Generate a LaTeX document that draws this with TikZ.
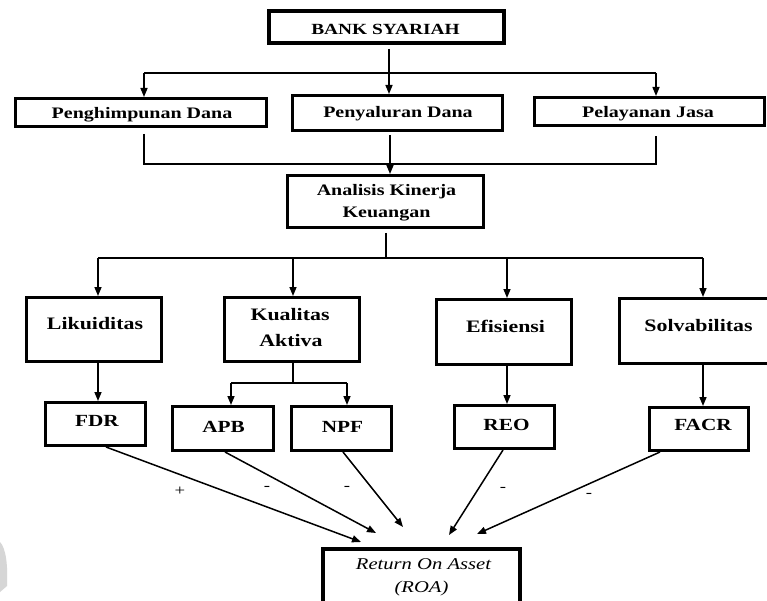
\documentclass[tikz,border=0pt]{standalone}
\usepackage{fontspec}
\setmainfont{Liberation Serif}[FakeStretch=1.25]
\usetikzlibrary{arrows.meta,calc}
\begin{document}
\begin{tikzpicture}[x=1pt,y=-1pt,
  box/.style={draw=black,line width=2.8pt,inner sep=0pt,fill=none},
  thickbox/.style={draw=black,line width=3.8pt,inner sep=0pt},
  conn/.style={draw=black,line width=1.5pt},
  arr/.style={conn,-{Triangle[length=9pt,width=7pt]}},
  lbl/.style={anchor=base,inner sep=0pt,font=\bfseries\fontsize{16}{19}\selectfont,align=center},
  lblb/.style={anchor=base,inner sep=0pt,font=\bfseries\fontsize{17.5}{21}\selectfont,align=center},
  lblc/.style={anchor=base,inner sep=0pt,font=\bfseries\fontsize{17}{20}\selectfont},
  sgn/.style={inner sep=0pt,font=\fontsize{15}{17}\selectfont}]
\useasboundingbox (0,0) rectangle (767,601);
\clip (0,0) rectangle (767,601);
\fill[white] (0,0) rectangle (767,601);
% faint watermark fragment
\fill[black!16] (0,542) .. controls (6,548) and (8,566) .. (7,586) -- (0,592) -- cycle;

% boxes
\node[thickbox,minimum width=235.2pt,minimum height=32.2pt] (bank) at (386.5,27) {};
\node[box,minimum width=251.2pt,minimum height=28.2pt] (pen) at (141,112.5) {};
\node[box,minimum width=210.2pt,minimum height=35.2pt] (pny) at (397.5,113) {};
\node[box,minimum width=230.2pt,minimum height=28.2pt] (pel) at (649.5,111.5) {};
\node[box,minimum width=196.2pt,minimum height=52.2pt] (ana) at (385.5,201.5) {};
\node[box,minimum width=135.2pt,minimum height=64.2pt] (lik) at (94,329.5) {};
\node[box,minimum width=135.2pt,minimum height=64.2pt] (kua) at (292,329.5) {};
\node[box,minimum width=135.2pt,minimum height=65.2pt] (efi) at (504,332) {};
\node[box,minimum width=152pt,minimum height=65.2pt] (sol) at (695.3,331) {};
\node[box,minimum width=100.2pt,minimum height=43.2pt] (fdr) at (95.5,424) {};
\node[box,minimum width=101.2pt,minimum height=44.2pt] (apb) at (223,428.5) {};
\node[box,minimum width=100.2pt,minimum height=44.2pt] (npf) at (341.5,428.5) {};
\node[box,minimum width=100.2pt,minimum height=43.2pt] (reo) at (504.5,427) {};
\node[box,minimum width=99.2pt,minimum height=43.2pt] (facr) at (699,429) {};
\node[thickbox,minimum width=197.2pt,minimum height=66pt] (roa) at (421.5,582) {};

% texts
\node[lbl,font=\bfseries\fontsize{15.5}{18}\selectfont] (tbank) at (385.5,35) {BANK SYARIAH};
\node[lbl] (tpen) at (142,118.5) {Penghimpunan Dana};
\node[lbl] (tpny) at (398,118) {Penyaluran Dana};
\node[lbl] (tpel) at (648,118) {Pelayanan Jasa};
\node[lbl] (tana1) at (386.5,196) {Analisis Kinerja};
\node[lbl] (tana2) at (386.5,218) {Keuangan};
\node[lblb] (tlik) at (95,329) {Likuiditas};
\node[lblb] (tkua1) at (290,320) {Kualitas};
\node[lblb] (tkua2) at (291,346) {Aktiva};
\node[lblb] (tefi) at (505.5,332) {Efisiensi};
\node[lblb] (tsol) at (698.5,331) {Solvabilitas};
\node[lblc] (tfdr) at (97,426) {FDR};
\node[lblc] (tapb) at (223.5,432) {APB};
\node[lblc] (tnpf) at (342.5,432) {NPF};
\node[lblc] (treo) at (506.5,430) {REO};
\node[lblc] (tfacr) at (703,430) {FACR};
\node[anchor=base,inner sep=0pt,font=\itshape\fontsize{16.5}{20}\selectfont] (troa1) at (423.5,569) {Return On Asset};
\node[anchor=base,inner sep=0pt,font=\itshape\fontsize{16.5}{20}\selectfont] (troa2) at (421.5,592) {(ROA)};

% level 0 -> level 1
\coordinate (j0) at (389,73);
\coordinate (jl) at (144,73);
\coordinate (jr) at (656,73);
\draw[conn,shorten <=4pt] (bank.south -| j0) -- (j0);
\draw[conn] (jl) -- (jr);
\draw[arr] (jl) -- (jl |- pen.north);
\draw[arr] (j0) -- (j0 |- pny.north);
\draw[arr] (jr) -- (jr |- pel.north);

% level 1 -> analisis
\coordinate (kl) at (144,164);
\coordinate (kr) at (656,164);
\coordinate (k0) at (390,164);
\draw[conn,shorten <=6pt,shorten >=9pt] (pen.south -| kl) -- (kl) -- (kr) -- (pel.south -| kr);
\draw[arr,shorten <=3pt] (pny.south -| k0) -- (ana.north -| k0);

% analisis -> level 2
\coordinate (m0) at (386,258);
\coordinate (m1) at (98,258);
\coordinate (m2) at (293,258);
\coordinate (m3) at (507,258);
\coordinate (m4) at (703,258);
\draw[conn,shorten <=4pt] (ana.south -| m0) -- (m0);
\draw[conn] (m1) -- (m4);
\draw[arr] (m1) -- (m1 |- lik.north);
\draw[arr] (m2) -- (m2 |- kua.north);
\draw[arr] (m3) -- (m3 |- efi.north);
\draw[arr] (m4) -- (m4 |- sol.north);

% level 2 -> level 3
\coordinate (n1) at (98,400);
\coordinate (n0) at (293,383);
\coordinate (n2) at (231,383);
\coordinate (n3) at (347,383);
\coordinate (n4) at (507,400);
\coordinate (n5) at (703,400);
\draw[arr] (lik.south -| n1) -- (fdr.north -| n1);
\draw[conn] (kua.south -| n0) -- (n0);
\draw[conn] (n2) -- (n3);
\draw[arr] (n2) -- (n2 |- apb.north);
\draw[arr] (n3) -- (n3 |- npf.north);
\draw[arr] (efi.south -| n4) -- (reo.north -| n4);
\draw[arr] (sol.south -| n5) -- (facr.north -| n5);

% level 3 -> ROA
\coordinate (t1) at (361,542);
\coordinate (t2) at (376,533);
\coordinate (t3) at (403,527);
\coordinate (t4) at (449,535);
\coordinate (t5) at (477,534);
\draw[arr] ($(fdr.south)+(10.5,0)$) -- (t1);
\draw[arr] ($(apb.south)+(2,0)$) -- (t2);
\draw[arr] ($(npf.south)+(1.5,0)$) -- (t3);
\draw[arr] ($(reo.south)+(-1.5,0)$) -- (t4);
\draw[arr] ($(facr.south)+(-39,0)$) -- (t5);

% signs
\node[sgn] (s1) at (180,491) {+};
\node[sgn] (s2) at (267,488) {-};
\node[sgn] (s3) at (347,488) {-};
\node[sgn] (s4) at (503,489) {-};
\node[sgn] (s5) at (589,495) {-};
\end{tikzpicture}
\end{document}
